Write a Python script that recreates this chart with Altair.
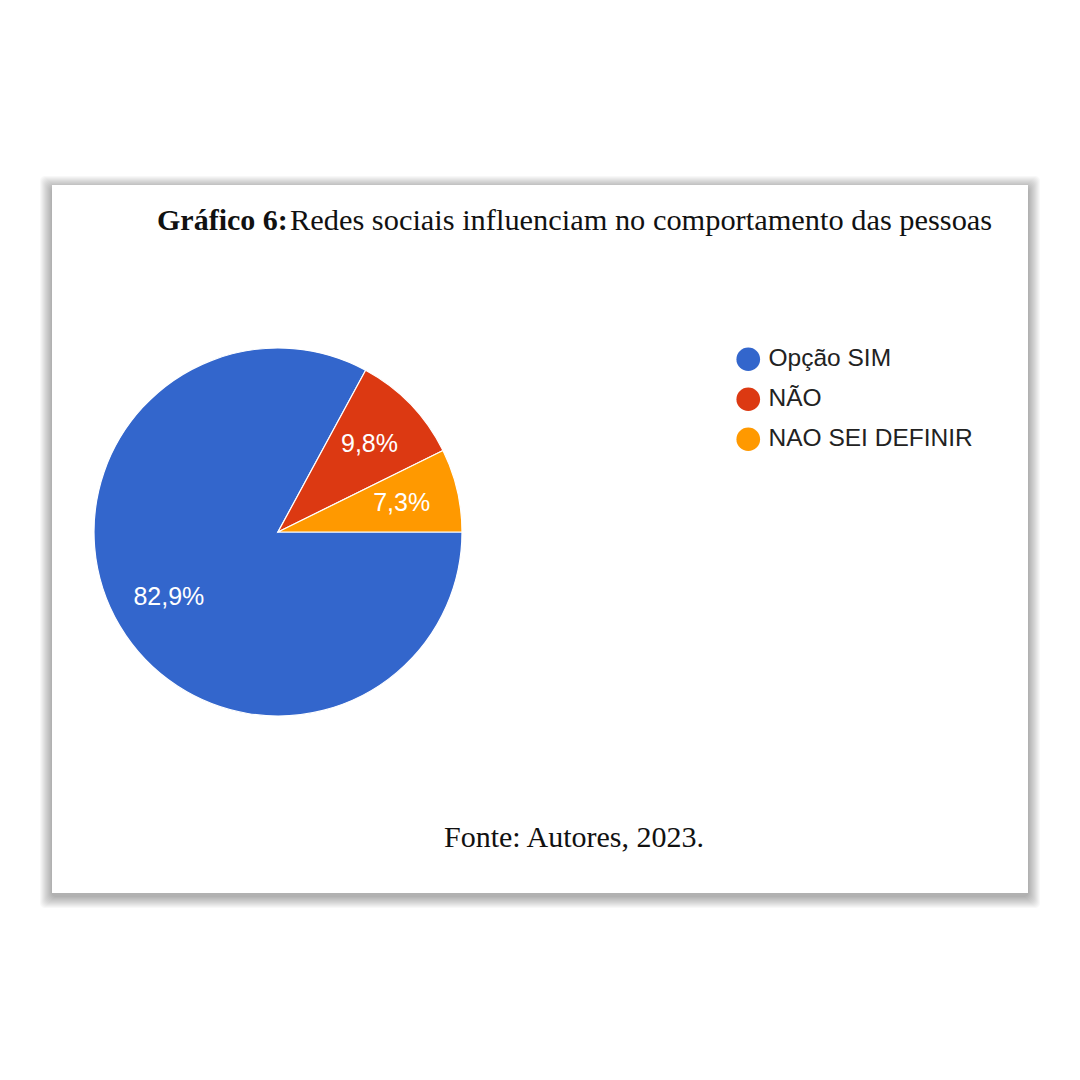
import math
import altair as alt
import pandas as pd

categories = ["Opção SIM", "NÃO", "NAO SEI DEFINIR"]
values = [82.9, 9.8, 7.3]
colors = ["#3366CC", "#DC3912", "#FF9900"]
title_bold = "Gráfico 6:"
title_rest = "Redes sociais influenciam no comportamento das pessoas"
footer = "Fonte: Autores, 2023."

df = pd.DataFrame({
    "cat": categories,
    "value": values,
    "order": list(range(len(categories))),
    "label": [f"{v:.1f}%".replace(".", ",") for v in values],
})

W, H = 1064, 1064
CX, CY = 270, 524
one = alt.Data(values=[{}])

# shadow layers
shadow_layers = []
for i in range(1, 13):
    shadow_layers.append(
        alt.Chart(one).mark_rect(fill="#000000", opacity=0.028, cornerRadius=5).encode(
            x=alt.value(44 - i), x2=alt.value(1020 + i),
            y=alt.value(177 - i + 3), y2=alt.value(885 + i + 3),
        )
    )
card = alt.Chart(one).mark_rect(fill="#FFFFFF").encode(
    x=alt.value(44), x2=alt.value(1020), y=alt.value(177), y2=alt.value(885)
)

theta = alt.Theta("value:Q", stack=True,
                  scale=alt.Scale(range=[math.pi / 2, math.pi / 2 + 2 * math.pi]))

pie = alt.Chart(df).mark_arc(outerRadius=184, stroke="#FFFFFF", strokeWidth=1.2).encode(
    theta=theta,
    order=alt.Order("order:Q"),
    x=alt.value(CX), y=alt.value(CY),
    color=alt.Color("cat:N", sort=categories,
                    scale=alt.Scale(domain=categories, range=colors),
                    legend=alt.Legend(
                        title=None, orient="none", legendX=728, legendY=339,
                        symbolType="circle", symbolSize=560, symbolStrokeWidth=0,
                        labelFont="Liberation Sans", labelFontSize=24.5,
                        labelColor="#222222", labelOffset=8, rowPadding=14,
                        padding=0, labelLimit=400,
                    )),
)

labels = alt.Chart(df).mark_text(radius=127, font="Liberation Sans", fontSize=25,
                                 color="#FFFFFF", align="center", baseline="middle").encode(
    theta=theta,
    order=alt.Order("order:Q"),
    x=alt.value(CX), y=alt.value(CY),
    text="label:N",
)

t1 = alt.Chart(one).mark_text(text=title_bold, font="Liberation Serif", fontSize=30,
                              fontWeight="bold", color="#111111", align="left",
                              baseline="middle").encode(x=alt.value(149), y=alt.value(213))
t2 = alt.Chart(one).mark_text(text=title_rest, font="Liberation Serif", fontSize=30.4,
                              color="#111111", align="left",
                              baseline="middle").encode(x=alt.value(282), y=alt.value(213))
f1 = alt.Chart(one).mark_text(text=footer, font="Liberation Serif", fontSize=30,
                              color="#111111", align="center",
                              baseline="middle").encode(x=alt.value(566), y=alt.value(830))

chart = alt.layer(*shadow_layers, card, pie, labels, t1, t2, f1).properties(
    width=W, height=H, padding=0,
    autosize=alt.AutoSizeParams(type="none"),
    background="#FFFFFF",
).configure_view(stroke=None)

chart.save("out.html", embed_options={"renderer": "svg", "actions": False})
